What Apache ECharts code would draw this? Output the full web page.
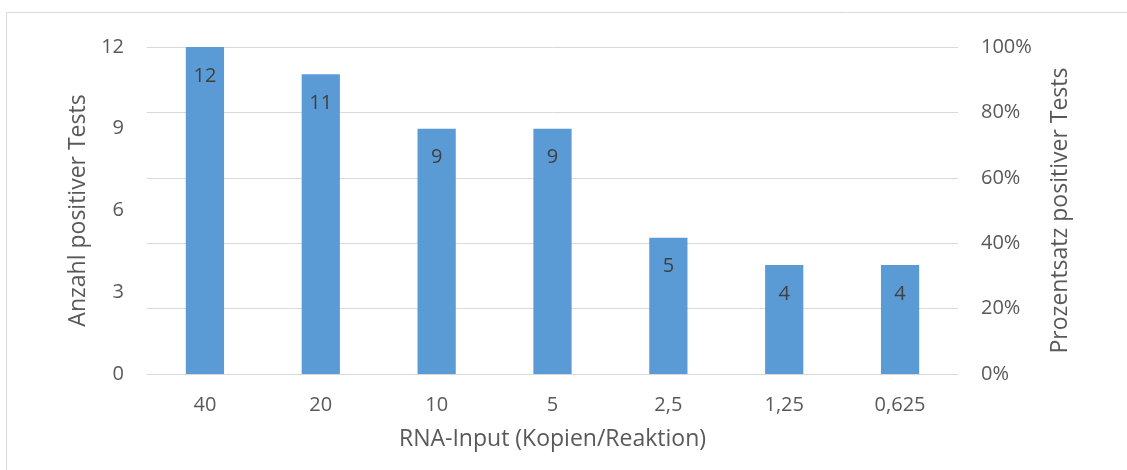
<!DOCTYPE html>
<html><head><meta charset="utf-8">
<script src="https://cdn.jsdelivr.net/npm/echarts@6/dist/echarts.min.js"></script>
<style>html,body{margin:0;padding:0;background:#fff}#c{width:1127px;height:470px}</style>
</head><body><div id="c"></div>
<script>
const categories = ['40', '20', '10', '5', '2,5', '1,25', '0,625'];
const positives = [12, 11, 9, 9, 5, 4, 4];
const leftTicks = { min: 0, max: 12, interval: 3 };
const rightTicks = { min: 0, max: 1, interval: 0.2 };

const FONT = 'Open Sans';
const TXT = '#595959';
const chart = echarts.init(document.getElementById('c'), null, { renderer: 'canvas' });
chart.setOption({
  animation: false,
  backgroundColor: '#fff',
  graphic: [{
    type: 'rect', shape: { x: 6.5, y: 12.5, width: 1140, height: 480 },
    style: { fill: 'none', stroke: '#D9D9D9', lineWidth: 1 }, silent: true, z: -1
  }],
  grid: { left: 147, right: 169, top: 47, bottom: 96, containLabel: false },
  xAxis: {
    type: 'category', data: categories,
    axisTick: { show: false },
    axisLine: { lineStyle: { color: '#D9D9D9', width: 1 } },
    axisLabel: { color: TXT, fontFamily: FONT, fontSize: 20, margin: 21 },
    name: 'RNA-Input (Kopien/Reaktion)', nameLocation: 'middle', nameGap: 54,
    nameTextStyle: { color: TXT, fontFamily: FONT, fontSize: 23 }
  },
  yAxis: [{
    type: 'value', min: leftTicks.min, max: leftTicks.max, interval: leftTicks.interval,
    splitLine: { show: false }, axisLine: { show: false }, axisTick: { show: false },
    axisLabel: { color: TXT, fontFamily: FONT, fontSize: 20, margin: 23 },
    name: 'Anzahl positiver Tests', nameLocation: 'middle', nameGap: 57, nameRotate: 90,
    nameTextStyle: { color: TXT, fontFamily: FONT, fontSize: 23 }
  }, {
    type: 'value', min: rightTicks.min, max: rightTicks.max, interval: rightTicks.interval,
    position: 'right',
    splitLine: { show: true, lineStyle: { color: '#D9D9D9', width: 1 } },
    axisLine: { show: false }, axisTick: { show: false },
    axisLabel: { color: TXT, fontFamily: FONT, fontSize: 20, margin: 23,
      formatter: v => Math.round(v * 100) + '%' },
    name: 'Prozentsatz positiver Tests', nameLocation: 'middle', nameGap: 91, nameRotate: 90,
    nameTextStyle: { color: TXT, fontFamily: FONT, fontSize: 23 }
  }],
  series: [{
    type: 'bar', data: positives, yAxisIndex: 0, barWidth: '33%',
    itemStyle: { color: '#5B9BD5' },
    label: { show: true, position: 'insideTop', distance: 19, color: '#404040',
      fontFamily: FONT, fontSize: 20 }
  }]
});
</script></body></html>
